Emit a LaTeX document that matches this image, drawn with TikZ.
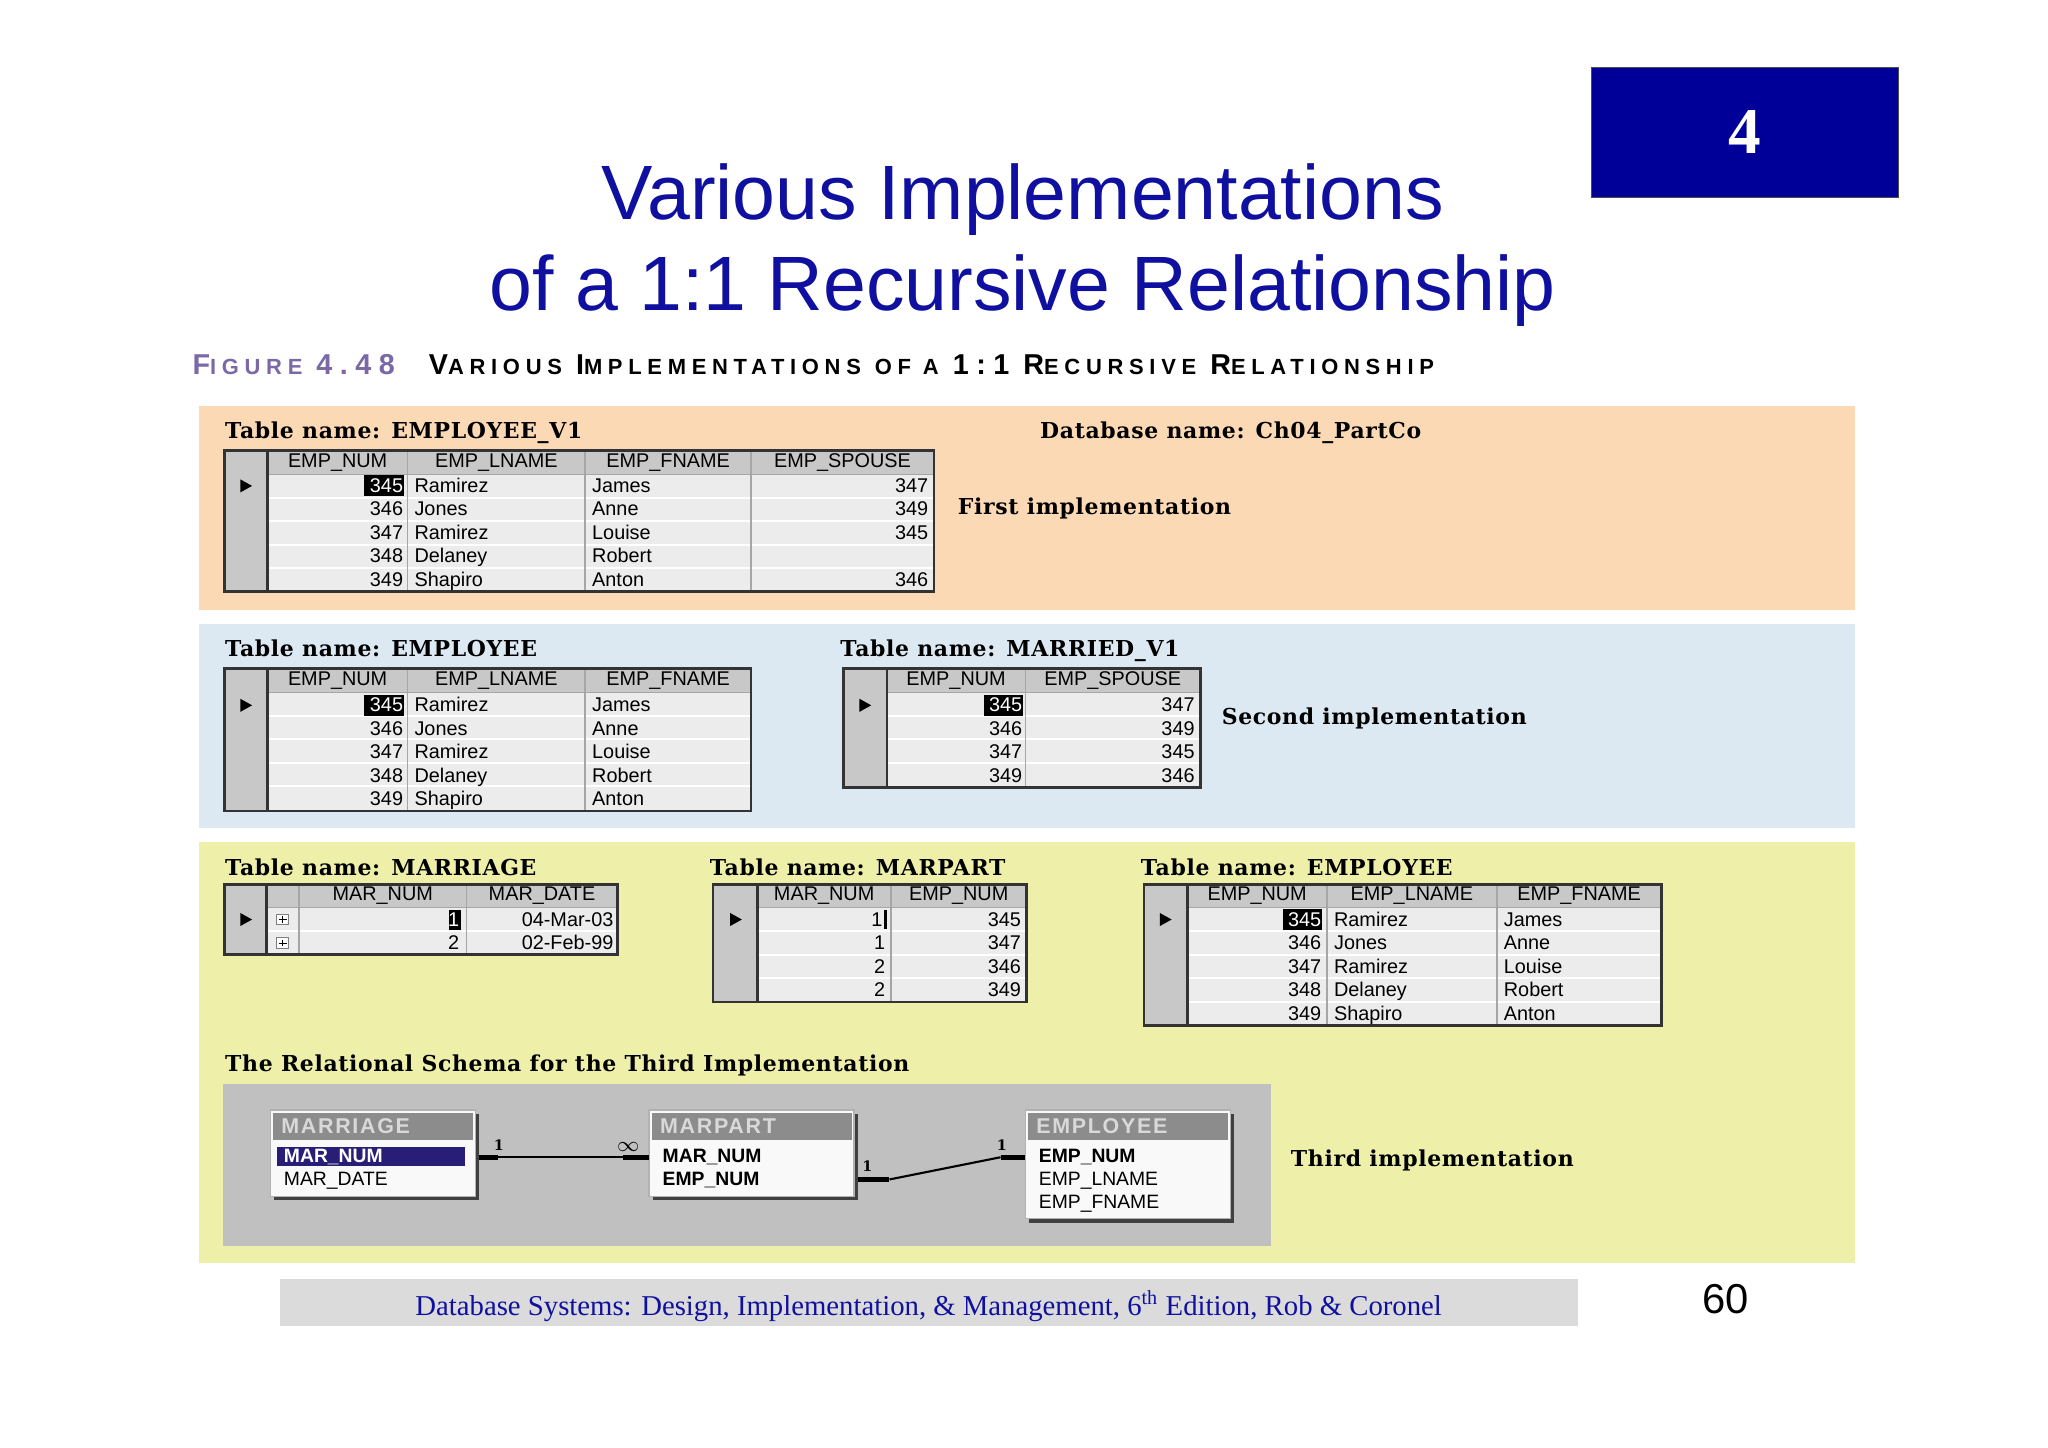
\documentclass[tikz,border=0pt]{standalone}
\usepackage{fontspec}
\setmainfont{Liberation Sans}
\newfontfamily\lblfont[LetterSpace=3]{DejaVu Serif}
\newfontfamily\capfont[LetterSpace=26]{Liberation Sans}
\newfontfamily\sttfont[LetterSpace=8]{Liberation Sans}
\newfontfamily\tmsfont{Liberation Serif}
\definecolor{ttl}{RGB}{16,16,160}
\definecolor{boxblue}{RGB}{0,0,153}
\definecolor{peach}{RGB}{251,217,181}
\definecolor{lblue}{RGB}{221,233,242}
\definecolor{lyel}{RGB}{238,240,170}
\definecolor{schg}{RGB}{192,192,192}
\definecolor{cellbg}{RGB}{236,236,236}
\definecolor{hdrbg}{RGB}{200,200,200}
\definecolor{capp}{RGB}{123,104,166}
\definecolor{navyhl}{RGB}{40,30,120}
\tikzset{
 lbl/.style={font=\lblfont\bfseries\fontsize{8.4}{10}\selectfont,anchor=base west,inner sep=0},
 htxt/.style={font=\fontsize{7.6}{8}\selectfont,inner sep=0},
 ctxt/.style={font=\fontsize{7.6}{8}\selectfont,inner sep=0,anchor=base west},
 rtxt/.style={font=\fontsize{7.6}{8}\selectfont,inner sep=0,anchor=base east},
 gridw/.style={white,line width=0.8pt},
 gridg/.style={gray!70,line width=0.6pt},
 tborder/.style={black!80,line width=1pt},
 sbox/.style={fill=white!95!gray,draw=gray!60,line width=0.6pt},
 stitle/.style={fill=black!45},
 sfld/.style={font=\fontsize{7.4}{8}\selectfont,inner sep=0,anchor=base west},
 sfldb/.style={font=\bfseries\fontsize{7.4}{8}\selectfont,inner sep=0,anchor=base west},
 stt/.style={font=\sttfont\bfseries\fontsize{8.2}{8}\selectfont,text=black!15,inner sep=0,anchor=base west},
 thickstub/.style={line width=2pt},
 card/.style={font=\lblfont\bfseries\fontsize{5.5}{6}\selectfont,inner sep=0},
}
\newcommand\tframe[6]{%
 \fill[cellbg] (#1,#3) rectangle (#2,#4);
 \fill[hdrbg] (#1,#3) rectangle (#2,#3+18);
 \foreach \yy in {#6} \draw[gridw] (#1,\yy) -- (#2,\yy);
 \foreach \xx in {#5} \draw[gridg] (\xx,#3) -- (\xx,#4);
 \draw[gray!70] (#1,#3+18) -- (#2,#3+18);
 \draw[tborder] (#1,#3) rectangle (#2,#4);
}
\newcommand\selcol[4]{%
 \fill[hdrbg] (#1,#3) rectangle (#2,#4);
 \draw[gridg] (#2,#3) -- (#2,#4);
 \draw[tborder] (#1,#3) rectangle (#2,#4);
}
\newcommand\ptr[2]{\fill (#1-4,#2-5) -- (#1+5,#2) -- (#1-4,#2+5) -- cycle;}
\newcommand\fs[2]{{\fontsize{11}{11}\selectfont #1}{\fontsize{8.4}{9}\selectfont #2}}
\begin{document}
\begin{tikzpicture}[x=0.5pt,y=-0.5pt]
\useasboundingbox[fill=white] (0,0) rectangle (1568,1108);
\node[fill=boxblue,draw=black!70,minimum width=117.5pt,minimum height=50pt,anchor=north west,inner sep=0,font=\tmsfont\bfseries\fontsize{25}{25}\selectfont,text=white] (chap) at (1218,51) {4};
\node[font=\fontsize{29.5}{35}\selectfont,text=ttl,anchor=base,inner sep=0] (t1) at (783,168) {Various Implementations};
\node[font=\fontsize{29.5}{35}\selectfont,text=ttl,anchor=base,inner sep=0] (t2) at (783,238) {of a 1:1 Recursive Relationship};
\node[anchor=base west,inner sep=0,font=\capfont\bfseries,text=capp] (fig) at (147,287) {\fs{F}{IGURE} \fs{4.48}{}};
\node[anchor=base west,inner sep=0,font=\capfont\bfseries] (figt) at (328,287) {\fs{V}{ARIOUS} \fs{I}{MPLEMENTATIONS} \fs{}{OF A} \fs{1:1}{} \fs{R}{ECURSIVE} \fs{R}{ELATIONSHIP}};
\fill[peach] (152,311) rectangle (1420,467);
\fill[lblue] (152,478) rectangle (1420,634);
\fill[lyel] (152,645) rectangle (1420,967);
% ===== panel 1
\node[lbl] (l1) at (172,336) {Table name: EMPLOYEE\_V1};
\node[lbl] (db) at (796,336) {Database name: Ch04\_PartCo};
\node[lbl] (i1) at (733,394) {First implementation};
\tframe{172}{715}{345}{453}{205,312,448,575}{381,399,417,435}
\selcol{172}{205}{345}{453}
\foreach \t/\cx in {EMP\_NUM/258.5,EMP\_LNAME/380,EMP\_FNAME/511.5,EMP\_SPOUSE/645}
  \node[htxt] at (\cx,354) {\t};
\ptr{188}{372}
\fill[black] (279,364) rectangle (309,380);
\node[rtxt,text=white] (a1) at (309,377) {345};
\node[ctxt] at (317,377) {Ramirez};
\node[ctxt] at (453,377) {James};
\node[rtxt] at (711,377) {347};
\foreach \a/\b/\c/\d [count=\i from 2] in {346/Jones/Anne/349,347/Ramirez/Louise/345,348/Delaney/Robert/{},349/Shapiro/Anton/346}{
  \node[rtxt] at (309,{359+18*\i}) {\a};
  \node[ctxt] at (317,{359+18*\i}) {\b};
  \node[ctxt] at (453,{359+18*\i}) {\c};
  \node[rtxt] at (711,{359+18*\i}) {\d};
}
% ===== panel 2
\node[lbl] (l2) at (172,503) {Table name: EMPLOYEE};
\node[lbl] (l3) at (643,503) {Table name: MARRIED\_V1};
\node[lbl] (i2) at (935,555) {Second implementation};
\tframe{172}{575}{512}{621}{205,312,448}{548,566,584,602}
\selcol{172}{205}{512}{621}
\foreach \t/\cx in {EMP\_NUM/258.5,EMP\_LNAME/380,EMP\_FNAME/511.5}
  \node[htxt] at (\cx,521) {\t};
\ptr{188}{540}
\fill[black] (279,532) rectangle (309,548);
\node[rtxt,text=white] at (309,545) {345};
\node[ctxt] at (317,545) {Ramirez};
\node[ctxt] at (453,545) {James};
\foreach \a/\b/\c [count=\i from 2] in {346/Jones/Anne,347/Ramirez/Louise,348/Delaney/Robert,349/Shapiro/Anton}{
  \node[rtxt] at (309,{527+18*\i}) {\a};
  \node[ctxt] at (317,{527+18*\i}) {\b};
  \node[ctxt] at (453,{527+18*\i}) {\c};
}
\tframe{646}{919}{512}{603}{679,785}{548,566,584}
\selcol{646}{679}{512}{603}
\foreach \t/\cx in {EMP\_NUM/732,EMP\_SPOUSE/852}
  \node[htxt] at (\cx,521) {\t};
\ptr{662}{540}
\fill[black] (753,532) rectangle (783,548);
\node[rtxt,text=white] at (783,545) {345};
\node[rtxt] at (915,545) {347};
\foreach \a/\d [count=\i from 2] in {346/349,347/345,349/346}{
  \node[rtxt] at (783,{527+18*\i}) {\a};
  \node[rtxt] at (915,{527+18*\i}) {\d};
}
% ===== panel 3
\node[lbl] (l4) at (172,670) {Table name: MARRIAGE};
\node[lbl] (l5) at (543,670) {Table name: MARPART};
\node[lbl] (l6) at (873,670) {Table name: EMPLOYEE};
\tframe{172}{473}{677}{731}{204,229,357}{713}
\selcol{172}{204}{677}{731}
\foreach \t/\cx in {MAR\_NUM/293,MAR\_DATE/415}
  \node[htxt] at (\cx,686) {\t};
\ptr{188}{704}
\foreach \yy in {704,722}{
  \draw[gray,fill=white] (212,\yy-4) rectangle (221,\yy+4);
  \draw (213.5,\yy) -- (219.5,\yy) (216.5,\yy-2.5) -- (216.5,\yy+2.5);
}
\fill[black] (344,697) rectangle (353,712);
\node[rtxt,text=white] at (352,709) {1};
\node[rtxt] at (470,709) {04-Mar-03};
\node[rtxt] at (352,727) {2};
\node[rtxt] at (470,727) {02-Feb-99};
\tframe{546}{786}{677}{767}{580,682}{713,731,749}
\selcol{546}{580}{677}{767}
\foreach \t/\cx in {MAR\_NUM/631,EMP\_NUM/734}
  \node[htxt] at (\cx,686) {\t};
\ptr{563}{704}
\draw[line width=1pt] (678,697) -- (678,711);
\node[rtxt] at (676,709) {1};
\node[rtxt] at (782,709) {345};
\foreach \a/\d [count=\i from 2] in {1/347,2/346,2/349}{
  \node[rtxt] at (678,{691+18*\i}) {\a};
  \node[rtxt] at (782,{691+18*\i}) {\d};
}
\tframe{876}{1272}{677}{785}{909,1016,1146}{713,731,749,767}
\selcol{876}{909}{677}{785}
\foreach \t/\cx in {EMP\_NUM/962.5,EMP\_LNAME/1081,EMP\_FNAME/1209}
  \node[htxt] at (\cx,686) {\t};
\ptr{892}{704}
\fill[black] (982,696) rectangle (1012,712);
\node[rtxt,text=white] at (1012,709) {345};
\node[ctxt] at (1021,709) {Ramirez};
\node[ctxt] at (1151,709) {James};
\foreach \a/\b/\c [count=\i from 2] in {346/Jones/Anne,347/Ramirez/Louise,348/Delaney/Robert,349/Shapiro/Anton}{
  \node[rtxt] at (1012,{691+18*\i}) {\a};
  \node[ctxt] at (1021,{691+18*\i}) {\b};
  \node[ctxt] at (1151,{691+18*\i}) {\c};
}
% schema
\node[lbl] (l7) at (172,820) {The Relational Schema for the Third Implementation};
\fill[schg] (171,830) rectangle (973,954);
\node[lbl] (i3) at (988,893) {Third implementation};
\fill[black!75] (210,853) rectangle (367,919);
\draw[sbox] (207,850) rectangle (364,916);
\fill[stitle] (209,852) rectangle (362,873);
\node[stt] (sm) at (215,868) {MARRIAGE};
\fill[navyhl] (212,878) rectangle (356,893);
\node[sfldb,text=white] (smn) at (217,890) {MAR\_NUM};
\node[sfld] at (217,908) {MAR\_DATE};
\fill[black!75] (500,853) rectangle (657,919);
\draw[sbox] (497,850) rectangle (654,916);
\fill[stitle] (499,852) rectangle (652,873);
\node[stt] (sp) at (505,868) {MARPART};
\node[sfldb] (spm) at (507,890) {MAR\_NUM};
\node[sfldb] (spe) at (507,908) {EMP\_NUM};
\fill[black!75] (788,853) rectangle (945,936);
\draw[sbox] (785,850) rectangle (942,933);
\fill[stitle] (787,852) rectangle (940,873);
\node[stt] (se) at (793,868) {EMPLOYEE};
\node[sfldb] (sen) at (795,890) {EMP\_NUM};
\node[sfld] at (795,908) {EMP\_LNAME};
\node[sfld] at (795,925) {EMP\_FNAME};
\coordinate (r1a) at (367,886); \coordinate (r1b) at (381,886);
\coordinate (r1c) at (477,886); \coordinate (r1d) at (497,886);
\draw[thickstub] (r1a) -- (r1b);
\draw[line width=0.8pt] (r1b) -- (r1c);
\draw[thickstub] (r1c) -- (r1d);
\node[card] at (382,877) {1};
\node[font=\bfseries\fontsize{8}{8}\selectfont,inner sep=0] at (481,878) {$\infty$};
\coordinate (r2a) at (657,903); \coordinate (r2b) at (681,903);
\coordinate (r2c) at (766,886); \coordinate (r2d) at (785,886);
\draw[thickstub] (r2a) -- (r2b);
\draw[line width=0.8pt] (r2b) -- (r2c);
\draw[thickstub] (r2c) -- (r2d);
\node[card] at (664,893) {1};
\node[card] at (767,877) {1};
\fill[black!14] (214,979) rectangle (1208,1015);
\node[font=\tmsfont\fontsize{11}{12}\selectfont,text=ttl,inner sep=0] (foot) at (711,1000) {Database Systems: Design, Implementation, \& Management, 6\textsuperscript{th} Edition, Rob \& Coronel};
\node[font=\fontsize{16}{16}\selectfont,anchor=base,inner sep=0] (pg) at (1321,1006) {60};
\end{tikzpicture}
\end{document}
